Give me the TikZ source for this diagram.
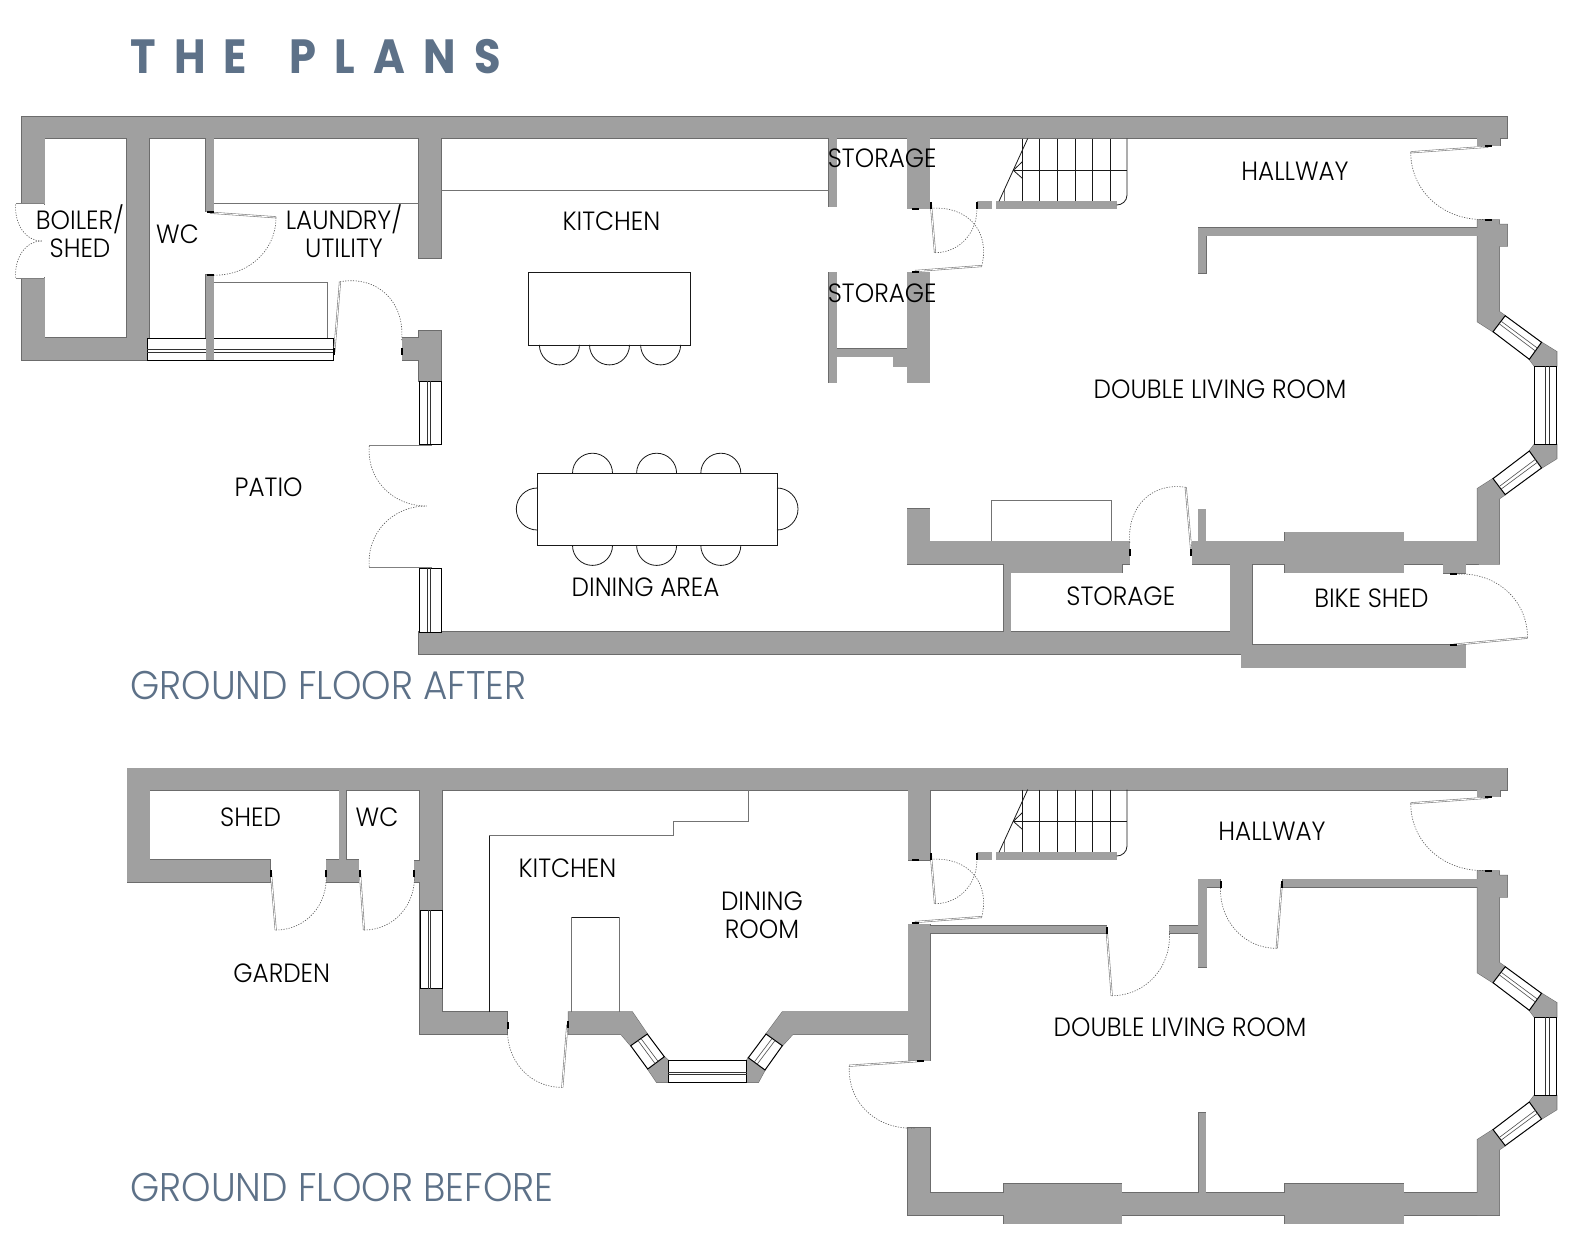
\documentclass[tikz,border=0pt]{standalone}
\usepackage{fontspec}
\newfontfamily\lf[UprightFont=* Light,BoldFont=* SemiBold,FakeStretch=0.935]{Poppins}
\newfontfamily\tf[UprightFont=* Bold,LetterSpace=38,FakeStretch=0.9]{Poppins}
\definecolor{wallc}{HTML}{A0A0A0}
\definecolor{walle}{HTML}{6C6C6C}
\definecolor{slate}{HTML}{5D7188}
\tikzset{
 x=0.5pt,y=-0.5pt,
 wl/.style={draw=walle,line width=0.55pt},
 wf/.style={fill=wallc},
 win/.style={draw=black,fill=white,line width=0.5pt},
 winl/.style={draw=black!80,line width=0.4pt},
 wind/.style={draw=black!70,line width=0.3pt},
 thin line/.style={draw=black!55,line width=0.4pt},
 black line/.style={draw=black!90,line width=0.4pt},
 doorleaf/.style={draw=black!50,line width=1pt},
 doorin/.style={draw=white,line width=0.4pt},
 doorarc/.style={draw=black!65,line width=0.3pt,dash pattern=on 0.6pt off 0.7pt},
 lab/.style={font=\fontsize{13.2}{13.2}\selectfont\lf,text=black,inner sep=0pt,align=center},
 ttl/.style={font=\fontsize{20}{20}\selectfont\lf,text=slate,inner sep=0pt,anchor=west},
}
\newcommand\door[6]{%
 \pgfmathsetmacro\cax{#3+0.5523*(#5-#1)}\pgfmathsetmacro\cay{#4+0.5523*(#6-#2)}%
 \pgfmathsetmacro\cbx{#5+0.5523*(#3-#1)}\pgfmathsetmacro\cby{#6+0.5523*(#4-#2)}%
 \draw[doorleaf] (#1,#2)--(#3,#4);
 \draw[doorin] (#1,#2)--(#3,#4);
 \draw[doorarc] (#3,#4) .. controls (\cax,\cay) and (\cbx,\cby) .. (#5,#6);
}
\newcommand\tickv[2]{\fill[black] (#1-1,#2-3.5) rectangle (#1+1,#2+3.5);}
\newcommand\tickh[2]{\fill[black] (#1-3.5,#2-1) rectangle (#1+3.5,#2+1);}
\newcommand\vwin[6]{\draw[win] (#1,#3) rectangle (#2,#4);\draw[winl] (#5,#3)--(#5,#4) (#6,#3)--(#6,#4);}
\newcommand\hwin[6]{\draw[win] (#1,#3) rectangle (#2,#4);\draw[winl] (#1,#5)--(#2,#5) (#1,#6)--(#2,#6);}
\newcommand\sharedwalls{%
 \W{(1477.4,138) rectangle (1500,145.7)}
 \W{(1477.4,220)--(1499.4,220)--(1499.4,224.3)--(1507.3,224.3)--(1507.3,246)--(1499.4,246)--(1499.4,311.7)--(1505.2,315.7)--(1493,331.7)--(1477.4,321.7)--cycle}
 \W{(1541.5,342.3)--(1556.7,351.7)--(1556.7,366)--(1534.3,366)--(1529.3,359.3)--cycle}
 \W{(1541.5,468)--(1556.7,458.6)--(1556.7,444.3)--(1534.3,444.3)--(1529.3,451)--cycle}
 \W{(1477.4,488.6)--(1493,478.6)--(1505.2,494.6)--(1499.4,498.6)--(1499.4,564)--(1477.4,564)--cycle}
 \W{(977.3,201.3) rectangle (991.7,208.7)}
 \W{(996.3,201.3) rectangle (1116.7,208.7)}
}
\newcommand\sharedrest{%
 \vwin{1534.3}{1556.7}{366}{444.3}{1545.7}{1549}
 \draw[win] (1505.2,315.7)--(1541.5,342.3)--(1529.3,359.3)--(1493,331.7)--cycle;
 \draw[wind] (1501,321.1)--(1537.4,348.1) (1499.1,323.7)--(1535.4,351);
 \draw[win] (1505.2,494.6)--(1541.5,468)--(1529.3,451)--(1493,478.6)--cycle;
 \draw[wind] (1501,489.2)--(1537.4,462.2) (1499.1,486.6)--(1535.4,459.3);
 \foreach \sx in {1022.3,1039.7,1057.3,1075,1092.7,1110.7}{\draw[black line] (\sx,138.5)--(\sx,201.3);}
 \draw[thin line] (1004,190)--(1004,201.3);
 \draw[black line] (1013.3,170.3)--(1127,170.3);
 \draw[black line] (1027.7,138.5)--(999,201.3);
 \draw[black line] (1022.3,161.7)--(1013.3,170.3)--(1022.3,178.3);
 \draw[black line] (1127,138.5)--(1127,195) .. controls (1127,201) and (1122,205) .. (1116.7,205);
 \door{931}{205}{935}{252.7}{976.7}{205}
 \door{915}{271}{981.7}{266}{931}{208.3}
 \door{1488.3}{146.7}{1410.7}{152.3}{1488.3}{219.3}
 \tickv{931}{205}\tickv{976.7}{205}\tickh{915}{208.5}\tickh{915}{271.5}
 \tickh{1488.3}{146}\tickh{1488.3}{220}
}
\begin{document}
\begin{tikzpicture}
\useasboundingbox (0,0) rectangle (1572,1244);
\fill[white] (0,0) rectangle (1572,1244);

\newcommand\wallsA{%
 \W{(22,117) rectangle (1507.3,138.3)}
 \W{(22,117) rectangle (44.5,204)}
 \W{(22,278) rectangle (44.5,360)}
 \W{(126.7,117) rectangle (149,360)}
 \W{(22,337.7) rectangle (149,360)}
 \W{(206,117) rectangle (213.7,211.7)}
 \W{(206,275) rectangle (213.7,360)}
 \W{(419,117) rectangle (441.3,258.3)}
 \W{(402.3,337.7) rectangle (441.3,360)}
 \W{(419,331) rectangle (441.3,381)}
 \W{(419,632) rectangle (1252,654)}
 \W{(829,138) rectangle (836.7,206.7)}
 \W{(907.3,117) rectangle (929.7,208.7)}
 \W{(829,272.3) rectangle (836.7,382.7)}
 \W{(907.3,272.3) rectangle (929.7,382.7)}
 \W{(836,349) rectangle (908,356.7)}
 \W{(893.3,356) rectangle (908,366.7)}
 \W{(1198.3,227.7) rectangle (1477.8,235.7)}
 \W{(1198.3,227.7) rectangle (1206,273.3)}
 \W{(907.3,509) rectangle (929.5,564)}
 \W{(907.3,541.3) rectangle (1129.8,564)}
 \W{(1003.6,564) rectangle (1122,572.7)}
 \W{(1003.6,564) rectangle (1010.6,633)}
 \W{(1230.4,564) rectangle (1252,654)}
 \W{(1192.3,541.3) rectangle (1478,564)}
 \W{(1198.3,509.3) rectangle (1205.7,542)}
 \W{(1285,532.3) rectangle (1403.5,572.7)}
 \W{(1443.3,563) rectangle (1465.5,573.3)}
 \W{(1241.3,645) rectangle (1465.5,667.7)}
 \sharedwalls
}
\def\W#1{\draw[wl] #1;}\wallsA
\def\W#1{\fill[wf] #1;}\wallsA

\hwin{147}{333.7}{338.3}{360}{349.3}{352.3}
\fill[wf] (206,338) rectangle (213.7,360);
\vwin{419}{441.3}{381}{444.3}{427.3}{430.7}
\vwin{419}{441.3}{568}{632}{427.3}{430.7}
\draw[thin line] (213.7,203.3)--(419,203.3);
\draw[thin line] (213.7,282.3)--(327.7,282.3)--(327.7,338);
\draw[thin line] (441.3,190.3)--(829,190.3);
\draw[thin line] (991.5,541)--(991.5,500.3)--(1111.2,500.3)--(1111.2,541);
\draw[black line] (528.3,272.7) rectangle (690.7,344.9);
\foreach \cx in {559.4,609.5,660.6}{\draw[black line] (\cx-20,344.9) arc[start angle=180,end angle=360,radius=10pt];}
\draw[black line] (537.3,473.2) rectangle (777,545.4);
\foreach \cx in {592.5,656.6,720.8}{
 \draw[black line] (\cx-20,473.2) arc[start angle=180,end angle=0,radius=10pt];
 \draw[black line] (\cx-20,545.4) arc[start angle=180,end angle=360,radius=10pt];}
\draw[black line] (537.3,488) arc[start angle=90,end angle=270,radius=10.5pt];
\draw[black line] (777,488) arc[start angle=90,end angle=-90,radius=10.5pt];
\door{44.3}{204.3}{15.7}{204.3}{41.7}{241}
\door{44.3}{277.7}{15.7}{277.7}{41.7}{241}
\door{210}{212.7}{276}{217.3}{210}{275}
\door{334.3}{351.7}{340}{281.7}{401.7}{340}
\door{431.7}{446}{369.3}{446}{426.7}{506}
\door{431.7}{566.7}{369.3}{566.7}{426.7}{506}
\door{1191.4}{552.7}{1185.7}{487.3}{1129.8}{543}
\door{1453.7}{644.7}{1527.5}{637.7}{1453.7}{574.3}
\tickh{210}{212}\tickh{210}{275}
\tickv{334.3}{351.7}\tickv{402.3}{351.7}
\tickv{1129.8}{552}\tickv{1191.4}{552.7}
\tickh{1453.7}{574}\tickh{1453.7}{644.7}
\sharedrest

\newcommand\wallsB{%
 \W{(127.3,768.3) rectangle (1507.3,790)}
 \W{(127.3,768.3) rectangle (149.7,882.3)}
 \W{(127.3,860) rectangle (270,882.3)}
 \W{(339.3,790) rectangle (346.3,861)}
 \W{(326.3,860) rectangle (358.7,882.3)}
 \W{(419.7,768.3) rectangle (442,1034.3)}
 \W{(414.3,861) rectangle (420,882.3)}
 \W{(419.7,1012) rectangle (507.3,1034.3)}
 \W{(568.3,1012)--(632.3,1012)--(647.3,1034)--(630.7,1045.7)--(621,1034.3)--(568.3,1034.3)--cycle}
 \W{(664.3,1056.7)--(668.3,1060.3)--(668.3,1082.3)--(656.7,1082.3)--(647.7,1069)--cycle}
 \W{(748.3,1057.7)--(746.7,1060.3)--(746.7,1082.3)--(758.3,1082.3)--(765,1070)--cycle}
 \W{(782.3,1012)--(908.3,1012)--(908.3,1034.3)--(792.7,1034.3)--(782.3,1045.7)--(766,1034)--cycle}
 \W{(908.3,768.3) rectangle (930.3,860)}
 \W{(908.3,924.3) rectangle (930.3,1060.7)}
 \W{(930,926) rectangle (1106.7,933.3)}
 \W{(1169.3,926) rectangle (1199,933.3)}
 \W{(1198.3,879.3) rectangle (1206.7,967.3)}
 \W{(1198.3,879.3) rectangle (1220,887)}
 \W{(1282.7,879.3) rectangle (1478,887)}
 \W{(908,1128) rectangle (930,1215)}
 \W{(908,1193) rectangle (1499.4,1215)}
 \W{(1003.5,1183.5) rectangle (1121.8,1223.5)}
 \W{(1285,1183.5) rectangle (1403.5,1223.5)}
 \W{(1198.5,1113) rectangle (1205.5,1194)}
}
\begin{scope}[shift={(0,651)}]
\def\W#1{\draw[wl] #1;}\sharedwalls
\end{scope}
\def\W#1{\draw[wl] #1;}\wallsB
\def\W#1{\fill[wf] #1;}\wallsB
\begin{scope}[shift={(0,651)}]
\def\W#1{\fill[wf] #1;}\sharedwalls
\end{scope}

\vwin{420.3}{442.7}{910.3}{988.7}{428.3}{430.3}
\hwin{668.3}{746.7}{1060.3}{1082.3}{1072.3}{1074.3}
\draw[win] (647.3,1034)--(664.3,1056.7)--(647.7,1069)--(630.7,1045.7)--cycle;
\draw[wind] (641,1038.5)--(658,1061.3) (638,1040.5)--(655,1063.5);
\draw[win] (766,1034)--(748.3,1057.7)--(765,1070)--(782.3,1045.7)--cycle;
\draw[wind] (772,1038.5)--(754.3,1062) (775,1040.5)--(757.3,1064);
\draw[black line] (489.3,1012)--(489.3,835);
\draw[thin line] (489.3,835)--(673.7,835)--(673.7,821)--(747.9,821)--(747.9,790);
\draw[thin line] (571.7,1012)--(571.7,917.3);
\draw[black line] (571.7,917.3)--(619,917.3);
\draw[thin line] (619,917.3)--(619,1012);
\door{271}{873.3}{275.7}{930}{326}{873.3}
\door{360}{873.3}{364}{930}{414.3}{873.3}
\door{567.3}{1024.7}{562.3}{1087.3}{507.7}{1025.3}
\door{920}{1061}{849.3}{1065.7}{916}{1128}
\door{1106.7}{930.7}{1111.7}{995.7}{1169.3}{930.7}
\door{1281.7}{884.3}{1276.7}{948.3}{1220.7}{884.3}
\tickv{271}{873.3}\tickv{326.3}{873.3}\tickv{359.5}{873.3}\tickv{414.3}{873.3}
\tickv{507.7}{1025.3}\tickv{567.5}{1024.7}\tickh{920}{1060.7}
\tickv{1106.7}{930.7}\tickv{1281.7}{884.3}\tickv{1220.7}{884.3}
\begin{scope}[shift={(0,651)}]
\sharedrest
\end{scope}

\node[font=\fontsize{24}{24}\selectfont\tf,text=slate,inner sep=0pt,anchor=west] (title) at (130,57) {THE\hspace{21pt}PLANS};
\node[ttl] (after) at (130,685) {GROUND FLOOR AFTER};
\node[ttl] (before) at (130,1187) {GROUND FLOOR BEFORE};
\node[lab] (a1) at (80,231) {BOILER/\\[1pt]SHED};
\node[lab] (a2) at (177.5,233.8) {WC};
\node[lab] (a3) at (344,231) {LAUNDRY/\\[1pt]UTILITY};
\node[lab] (a4) at (611.5,221.6) {KITCHEN};
\node[lab] (a5) at (882.2,158.5) {STORAGE};
\node[lab] (a6) at (882.2,293) {STORAGE};
\node[lab] (a7) at (1295,171.5) {HALLWAY};
\node[lab] (a8) at (1220,389) {DOUBLE LIVING ROOM};
\node[lab] (a9) at (268.7,487.2) {PATIO};
\node[lab] (a10) at (645.6,587.5) {DINING AREA};
\node[lab] (a11) at (1120.8,596.5) {STORAGE};
\node[lab] (a12) at (1371.4,598.5) {BIKE SHED};
\node[lab] (b1) at (250.6,817) {SHED};
\node[lab] (b2) at (377,817) {WC};
\node[lab] (b3) at (1272,831) {HALLWAY};
\node[lab] (b4) at (567.4,868) {KITCHEN};
\node[lab] (b5) at (762,915.5) {DINING\\[1pt]ROOM};
\node[lab] (b6) at (281.7,973.4) {GARDEN};
\node[lab] (b7) at (1180,1027.6) {DOUBLE LIVING ROOM};
\end{tikzpicture}
\end{document}
